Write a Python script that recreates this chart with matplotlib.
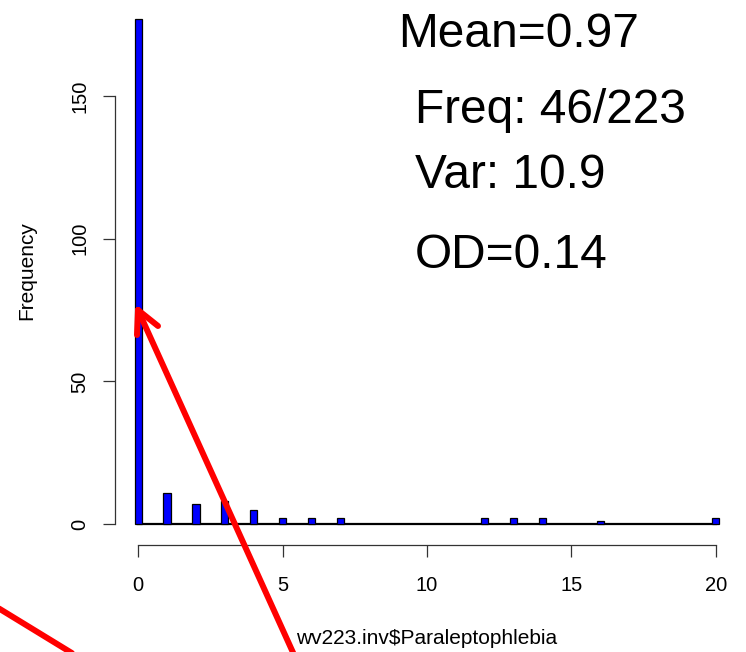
import numpy as np
import matplotlib.pyplot as plt

plt.rcParams['font.family'] = ['Liberation Sans', 'DejaVu Sans']

# counts of wv223.inv$Paraleptophlebia (value -> frequency)
values = [0, 1, 2, 3, 4, 5, 6, 7, 12, 13, 14, 16, 20]
counts = [177, 11, 7, 8, 5, 2, 2, 2, 2, 2, 2, 1, 2]
x_ticks = [0, 5, 10, 15, 20]
y_ticks = [0, 50, 100, 150]
stats_text = ["Mean=0.97", "Freq: 46/223", "Var: 10.9", "OD=0.14"]

W, H = 746, 652
fig = plt.figure(figsize=(W / 100, H / 100), dpi=100)

# main plot region in pixels: left 115, right 739, top 0, bottom 545
ax = fig.add_axes([115 / W, (H - 545) / H, 624 / W, 545 / H])
ax.set_xlim(-0.8, 20.8)
ax.set_ylim(-7.36, 183.7)

ax.plot([0, 20], [0, 0], color="black", lw=1.6, zorder=2)
ax.bar(values, counts, width=0.25, color="#0000FF", edgecolor="black",
       linewidth=0.9, zorder=3)

for s in ["top", "right"]:
    ax.spines[s].set_visible(False)
ax.spines["left"].set_bounds(0, 150)
ax.spines["bottom"].set_bounds(0, 20)
for s in ["left", "bottom"]:
    ax.spines[s].set_color("#333333")
    ax.spines[s].set_linewidth(0.9)

ax.set_xticks(x_ticks)
ax.set_yticks(y_ticks)
ax.tick_params(axis="both", length=8.6, width=0.9, color="#333333",
               labelsize=14.5)
ax.tick_params(axis="x", pad=14)
ax.tick_params(axis="y", pad=10)
plt.setp(ax.get_yticklabels(), rotation=90, va="center")

# overlay in pixel coordinates for labels, stats and arrows
ov = fig.add_axes([0, 0, 1, 1])
ov.set_xlim(0, W)
ov.set_ylim(H, 0)
ov.axis("off")

ov.text(27, 271, "Frequency", rotation=90, ha="center", va="center",
        fontsize=15)
ov.text(427, 644, "wv223.inv$Paraleptophlebia", ha="center", va="baseline",
        fontsize=15)

stat_pos = [(398, 47), (415, 123), (415, 188), (415, 268)]
for (tx, ty), s in zip(stat_pos, stats_text):
    ov.text(tx, ty, s, ha="left", va="baseline", fontsize=34.5)

red = "#FF0000"
ov.plot([138, 300], [310, 668], color=red, lw=4.3, solid_capstyle="round")
ov.plot([138, 137], [310, 335], color=red, lw=4.3, solid_capstyle="round")
ov.plot([138, 158], [310, 326], color=red, lw=4.3, solid_capstyle="round")
ov.plot([-10, 80], [603, 658], color=red, lw=4.3, solid_capstyle="round")

fig.savefig("out.png", dpi=100)
